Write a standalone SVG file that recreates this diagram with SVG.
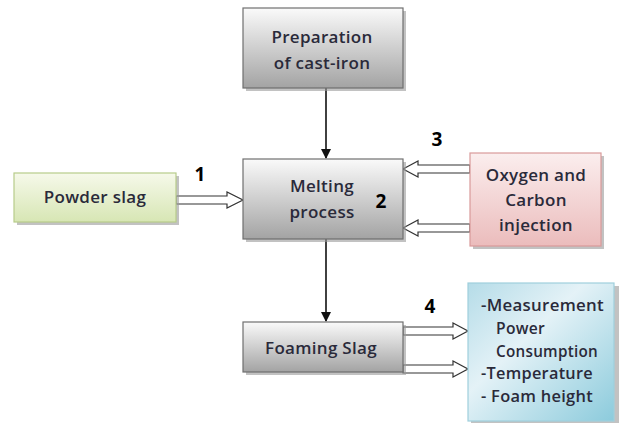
<svg xmlns="http://www.w3.org/2000/svg" width="619" height="423" viewBox="0 0 619 423">
<defs>
<linearGradient id="gGrey" x1="0" y1="0" x2="0" y2="1"><stop offset="0" stop-color="#fafafa"/><stop offset="1" stop-color="#a3a3a3"/></linearGradient>
<linearGradient id="gGreen" x1="0" y1="0" x2="0" y2="1"><stop offset="0" stop-color="#f6f9ea"/><stop offset="1" stop-color="#d7e6b4"/></linearGradient>
<linearGradient id="gPink" x1="0" y1="0" x2="0" y2="1"><stop offset="0" stop-color="#fbeeee"/><stop offset="1" stop-color="#ebbcbc"/></linearGradient>
<linearGradient id="gBlue" x1="0" y1="0" x2="1" y2="1"><stop offset="0" stop-color="#b5dce8"/><stop offset="0.4" stop-color="#e4f2f7"/><stop offset="1" stop-color="#8ccbdc"/></linearGradient>
<marker id="ah" markerWidth="10" markerHeight="10" refX="9" refY="5" orient="auto" markerUnits="userSpaceOnUse"><path d="M0,0 L10,5 L0,10 Z" fill="#111"/></marker>
</defs>
<style>
text{font-family:"Open Sans","Liberation Sans",sans-serif;font-size:17px;font-weight:600;letter-spacing:0.3px;fill:#2a2a3a;}
.c{text-anchor:middle;}
.num{font-size:19px;font-weight:bold;letter-spacing:0;fill:#000;}
.sh{fill:#9a9a9a;opacity:0.6;}
.grey{fill:url(#gGrey);stroke:#6f6f6f;stroke-width:1.2;}
.hollow{fill:#fff;stroke:#333;stroke-width:1.2;}
.line{stroke:#111;stroke-width:1.6;fill:none;}
</style>
<g id="connectors">
<line class="line" x1="326" y1="88" x2="326" y2="158" marker-end="url(#ah)"/>
<line class="line" x1="326" y1="239" x2="326" y2="321" marker-end="url(#ah)"/>
<path class="hollow" d="M176,196 L227,196 L227,192 L243,200 L227,208 L227,204 L176,204 Z"/>
<path class="hollow" d="M470,165 L418,165 L418,161 L403,169 L418,177 L418,173 L470,173 Z"/>
<path class="hollow" d="M470,224 L418,224 L418,220 L403,228 L418,236 L418,232 L470,232 Z"/>
<path class="hollow" d="M403,327 L453,327 L453,323 L468,331 L453,339 L453,335 L403,335 Z"/>
<path class="hollow" d="M403,365 L453,365 L453,361 L468,369 L453,377 L453,373 L403,373 Z"/>
</g>
<g id="prep">
<rect class="sh" x="246" y="11" width="160" height="80"/>
<rect class="grey" x="243" y="8" width="160" height="80"/>
<text class="c" x="322" y="43">Preparation</text>
<text class="c" x="322" y="69">of cast-iron</text>
</g>
<g id="powder">
<rect class="sh" x="17" y="176" width="162" height="49"/>
<rect x="14" y="173" width="162" height="49" fill="url(#gGreen)" stroke="#b7cc8a" stroke-width="1.2"/>
<text class="c" x="95" y="203">Powder slag</text>
</g>
<g id="melting">
<rect class="sh" x="246" y="162" width="160" height="80"/>
<rect class="grey" x="243" y="159" width="160" height="80"/>
<text class="c" x="322" y="192">Melting</text>
<text class="c" x="322" y="218">process</text>
</g>
<g id="oxygen">
<rect class="sh" x="473" y="156" width="131" height="93"/>
<rect x="470" y="153" width="131" height="93" fill="url(#gPink)" stroke="#d99a9a" stroke-width="1.2"/>
<text class="c" x="536" y="181">Oxygen and</text>
<text class="c" x="536" y="206">Carbon</text>
<text class="c" x="536" y="231">injection</text>
</g>
<g id="foaming">
<rect class="sh" x="246" y="325" width="160" height="50"/>
<rect class="grey" x="243" y="322" width="160" height="50"/>
<text class="c" x="321" y="354">Foaming Slag</text>
</g>
<g id="measure">
<rect class="sh" x="471" y="286" width="148" height="140"/>
<rect x="468" y="283" width="146" height="138" fill="url(#gBlue)" stroke="#9fcfdc" stroke-width="1.2"/>
<text x="481" y="311" textLength="123" lengthAdjust="spacingAndGlyphs">-Measurement</text>
<text x="496" y="334" textLength="49" lengthAdjust="spacingAndGlyphs">Power</text>
<text x="496" y="357" textLength="102" lengthAdjust="spacingAndGlyphs">Consumption</text>
<text x="481" y="379" textLength="112" lengthAdjust="spacingAndGlyphs">-Temperature</text>
<text x="481" y="402" textLength="112" lengthAdjust="spacingAndGlyphs">- Foam height</text>
</g>
<g id="labels">
<text class="num c" x="200" y="181">1</text>
<text class="num c" x="381" y="208">2</text>
<text class="num c" x="437" y="146">3</text>
<text class="num c" x="430" y="313">4</text>
</g>
</svg>
